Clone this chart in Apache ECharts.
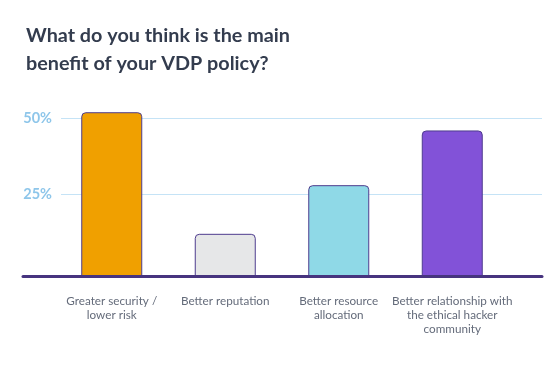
<!DOCTYPE html>
<html>
<head>
<meta charset="utf-8">
<script src="https://cdn.jsdelivr.net/npm/echarts@6/dist/echarts.min.js"></script>
<style>
  html, body { margin: 0; padding: 0; background: #ffffff; }
  #chart { width: 558px; height: 370px; }
</style>
</head>
<body>
<div id="chart"></div>
<script>
const titleText = 'What do you think is the main\nbenefit of your VDP policy?';
const categories = [
  'Greater security /\nlower risk',
  'Better reputation',
  'Better resource\nallocation',
  'Better relationship with\nthe ethical hacker\ncommunity'
];
const values = [52, 12, 28, 46];
const barColors = ['#F0A000', '#E6E7E8', '#8FD9E7', '#8252D8'];
const yTickValues = [25, 50];

const AXIS_MIN = -1.875;
const AXIS_MAX = 60;
const gridTop = 87.9;
const gridBottom = 94;

const chart = echarts.init(document.getElementById('chart'), null, { renderer: 'canvas' });

const option = {
  backgroundColor: '#ffffff',
  animation: false,
  title: {
    text: titleText,
    left: 21,
    top: 17,
    textStyle: {
      fontFamily: 'Lato',
      fontWeight: 'bold',
      fontSize: 19.8,
      lineHeight: 27.5,
      color: '#333C4E'
    }
  },
  grid: [
    { left: 55, right: 49, top: gridTop, bottom: gridBottom, containLabel: false },
    { left: 61, right: 16, top: gridTop, bottom: gridBottom, containLabel: false },
    { left: 23, right: 16, top: gridTop, bottom: gridBottom, containLabel: false }
  ],
  xAxis: [
    {
      type: 'category',
      gridIndex: 0,
      data: categories,
      axisLine: { show: false },
      axisTick: { show: false },
      axisLabel: {
        margin: 18,
        fontFamily: 'Lato',
        fontSize: 11.7,
        lineHeight: 14,
        color: '#646B7A',
        interval: 0
      }
    },
    {
      type: 'value',
      gridIndex: 1,
      show: false
    },
    {
      type: 'value',
      gridIndex: 2,
      min: 0, max: 1,
      axisLine: { show: true, onZero: false, lineStyle: { color: '#47347F', width: 3 } },
      axisTick: { show: false },
      axisLabel: { show: false },
      splitLine: { show: false },
      z: 5
    }
  ],
  yAxis: [
    {
      type: 'value',
      gridIndex: 0,
      min: AXIS_MIN,
      max: AXIS_MAX,
      startValue: AXIS_MIN,
      show: false,
      splitLine: { show: false }
    },
    {
      type: 'value',
      gridIndex: 1,
      min: AXIS_MIN,
      max: AXIS_MAX,
      axisLine: { show: false },
      axisTick: { show: false, customValues: yTickValues },
      axisLabel: {
        customValues: yTickValues,
        formatter: '{value}%',
        margin: 9,
        fontFamily: 'Lato',
        fontWeight: 'bold',
        fontSize: 14.5,
        color: '#8EC6EA'
      },
      splitLine: { show: true, lineStyle: { color: '#C5E3F6', width: 1 } }
    },
    {
      type: 'value',
      gridIndex: 2,
      min: AXIS_MIN,
      max: AXIS_MAX,
      show: false,
      splitLine: { show: false }
    }
  ],
  series: [
    {
      type: 'bar',
      xAxisIndex: 0,
      yAxisIndex: 0,
      barWidth: 61,
      data: values.map((v, i) => ({
        value: v,
        itemStyle: { color: barColors[i] }
      })),
      itemStyle: {
        borderColor: '#4E3C8E',
        borderWidth: 1,
        borderRadius: [4, 4, 0, 0]
      },
      z: 3
    }
  ]
};

chart.setOption(option);
</script>
</body>
</html>
